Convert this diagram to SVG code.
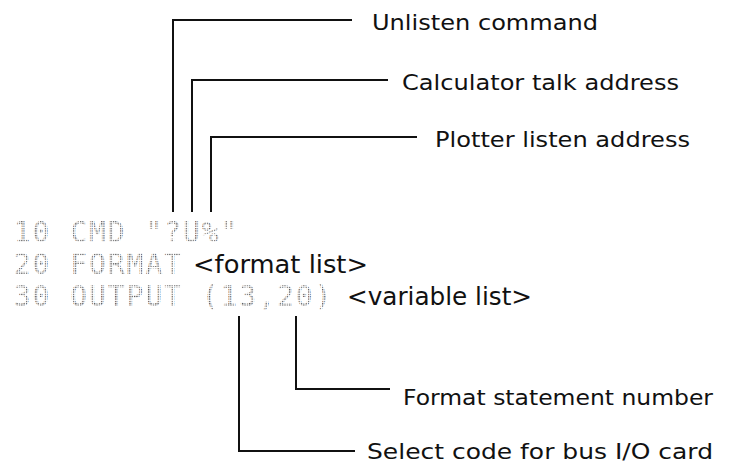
<svg xmlns="http://www.w3.org/2000/svg" width="730" height="463" viewBox="0 0 730 463">
  <defs>
    <pattern id="dots" width="2.35" height="2.35" patternUnits="userSpaceOnUse">
      <rect x="0" y="0" width="1.3" height="1.3" fill="#555"/>
    </pattern>
  </defs>
  <style>
    .lbl { font-family: "DejaVu Sans", "Liberation Sans", sans-serif; font-size: 22px; fill: #111; }
    .code { font-family: "DejaVu Sans Mono", "Liberation Mono", monospace; font-size: 28px; letter-spacing: 1.94px; fill: url(#dots); }
    .arg { font-family: "DejaVu Sans", "Liberation Sans", sans-serif; font-size: 24px; fill: #111; }
    .conn { fill: none; stroke: #111; stroke-width: 2; stroke-linejoin: miter; }
  </style>
  <rect width="730" height="463" fill="#fff"/>

  <g id="program">
    <text class="code" x="13.8" y="242" xml:space="preserve">10 CMD "?U%"</text>
    <text class="code" x="13.8" y="274" xml:space="preserve">20 FORMAT</text>
    <text class="code" x="13.8" y="306" xml:space="preserve">30 OUTPUT (13,20)</text>
    <text class="arg" x="193" y="273" textLength="175" lengthAdjust="spacingAndGlyphs">&lt;format list&gt;</text>
    <text class="arg" x="347" y="305" textLength="185" lengthAdjust="spacingAndGlyphs">&lt;variable list&gt;</text>
  </g>

  <g id="connectors">
    <path class="conn" d="M173,212 V20 H352"/>
    <path class="conn" d="M192,212 V80 H388"/>
    <path class="conn" d="M211,212 V137 H417"/>
    <path class="conn" d="M296,316 V389 H390"/>
    <path class="conn" d="M239,316 V451 H355"/>
  </g>

  <g id="unlisten">
    <text class="lbl" x="372" y="30" textLength="226" lengthAdjust="spacingAndGlyphs">Unlisten command</text>
  </g>
  <g id="talk">
    <text class="lbl" x="402" y="90" textLength="277" lengthAdjust="spacingAndGlyphs">Calculator talk address</text>
  </g>
  <g id="listen">
    <text class="lbl" x="435" y="147" textLength="255" lengthAdjust="spacingAndGlyphs">Plotter listen address</text>
  </g>
  <g id="format-number">
    <text class="lbl" x="403" y="405" textLength="310" lengthAdjust="spacingAndGlyphs">Format statement number</text>
  </g>
  <g id="select-code">
    <text class="lbl" x="367" y="459" textLength="346" lengthAdjust="spacingAndGlyphs">Select code for bus I/O card</text>
  </g>
</svg>
